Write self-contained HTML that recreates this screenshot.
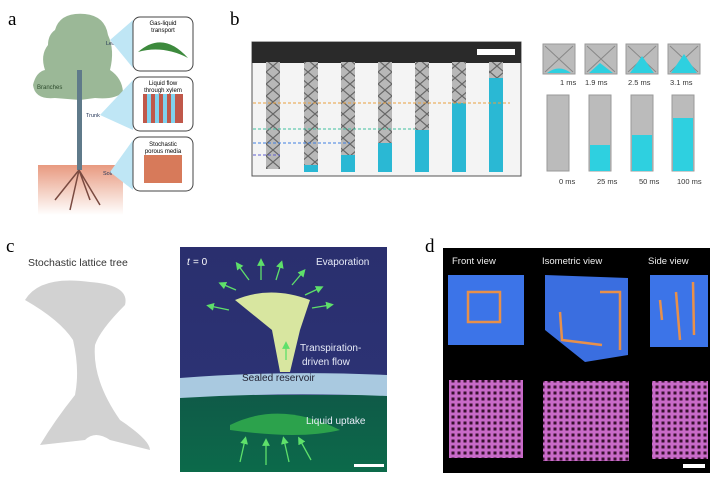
<!DOCTYPE html>
<html><head><style>
body{margin:0;background:#fff;width:720px;height:483px;overflow:hidden;font-family:"Liberation Sans",sans-serif}
</style></head><body>
<svg width="720" height="483" viewBox="0 0 720 483" xmlns="http://www.w3.org/2000/svg" font-family="Liberation Sans, sans-serif">
<defs>
<linearGradient id="cg" x1="0" y1="0" x2="0" y2="1"><stop offset="0" stop-color="#2a2f6e"/><stop offset="1" stop-color="#2d3478"/></linearGradient>
<linearGradient id="wat" x1="0" y1="0" x2="0" y2="1"><stop offset="0" stop-color="#0f5a48"/><stop offset="1" stop-color="#0c6a4a"/></linearGradient>
<linearGradient id="soil" x1="0" y1="0" x2="0" y2="1"><stop offset="0" stop-color="#e89a80"/><stop offset="1" stop-color="#fff"/></linearGradient>
<pattern id="grid" width="6" height="6" patternUnits="userSpaceOnUse"><rect width="6" height="6" fill="#c86ac8"/><rect x="1.5" y="1.5" width="3" height="3" fill="#3a1030"/></pattern>
<pattern id="lat" width="14" height="12" patternUnits="userSpaceOnUse"><rect width="14" height="12" fill="#b8b8b8"/><path d="M0 0 L14 12 M14 0 L0 12" stroke="#666" stroke-width="1.2"/></pattern>
<marker id="ar" markerWidth="6" markerHeight="6" refX="3" refY="3" orient="auto"><path d="M0 0 L6 3 L0 6Z" fill="#5ee06a"/></marker>
</defs>
<!-- panel a -->
<text x="8" y="25" font-family="Liberation Serif" font-size="19">a</text>
<rect x="38" y="165" width="85" height="50" fill="url(#soil)"/>
<path d="M55 30 Q60 12 85 14 Q105 16 108 35 Q115 50 110 70 Q122 78 123 92 Q115 100 95 98 L80 100 L55 98 Q35 100 33 85 Q36 72 45 70 Q40 55 48 45 Q48 35 55 30Z" fill="#9bb897"/>
<rect x="77" y="70" width="5" height="100" fill="#5f7a8a"/>
<path d="M79 170 L55 200 M79 170 L100 205 M79 170 L70 210 M79 170 L90 200" stroke="#7a4a40" stroke-width="1.5" fill="none"/>
<text x="37" y="89" font-size="6" fill="#2c4a2c">Branches</text>
<text x="106" y="45" font-size="5.5" fill="#235">Leaves</text>
<text x="86" y="117" font-size="5.5" fill="#235">Trunk</text>
<text x="103" y="175" font-size="5.5" fill="#235">Soil</text>
<polygon points="110,40 133,20 133,68" fill="#bfe6f5"/>
<polygon points="100,115 133,80 133,130" fill="#bfe6f5"/>
<polygon points="110,172 133,140 133,190" fill="#bfe6f5"/>
<rect x="133" y="17" width="60" height="54" rx="7" fill="#fff" stroke="#444"/>
<text x="163" y="25" font-size="6" text-anchor="middle">Gas-liquid</text><text x="163" y="32" font-size="6" text-anchor="middle">transport</text>
<path d="M138 52 Q163 30 188 58 Q163 45 138 52Z" fill="#3d8a3d"/>
<rect x="133" y="77" width="60" height="54" rx="7" fill="#fff" stroke="#444"/>
<text x="163" y="85" font-size="6" text-anchor="middle">Liquid flow</text><text x="163" y="92" font-size="6" text-anchor="middle">through xylem</text>
<rect x="143" y="94" width="40" height="29" fill="#c0584a"/>
<g fill="#7fd2ee"><rect x="147" y="94" width="4" height="29"/><rect x="155" y="94" width="4" height="29"/><rect x="163" y="94" width="4" height="29"/><rect x="171" y="94" width="4" height="29"/></g>
<rect x="133" y="137" width="60" height="54" rx="7" fill="#fff" stroke="#444"/>
<text x="163" y="146" font-size="6" text-anchor="middle">Stochastic</text><text x="163" y="153" font-size="6" text-anchor="middle">porous media</text>
<rect x="144" y="155" width="38" height="28" fill="#d77a5a"/>
<!-- panel b -->
<text x="230" y="25" font-family="Liberation Serif" font-size="19">b</text>
<rect x="252" y="42" width="269" height="134" fill="#f4f4f4" stroke="#555"/>
<rect x="252" y="42" width="269" height="21" fill="#2a2a2a"/>
<rect x="477" y="49" width="38" height="6" fill="#fff"/>
<g fill="url(#lat)">
<rect x="266" y="62" width="14" height="107"/><rect x="304" y="62" width="14" height="110"/><rect x="341" y="62" width="14" height="110"/><rect x="378" y="62" width="14" height="110"/><rect x="415" y="62" width="14" height="110"/><rect x="452" y="62" width="14" height="110"/><rect x="489" y="62" width="14" height="110"/>
</g>
<g fill="#2ab8d4">
<rect x="304" y="165" width="14" height="7"/><rect x="341" y="155" width="14" height="17"/><rect x="378" y="143" width="14" height="29"/><rect x="415" y="130" width="14" height="42"/><rect x="452" y="103" width="14" height="69"/><rect x="489" y="78" width="14" height="94"/>
</g>
<line x1="253" y1="103" x2="510" y2="103" stroke="#e8a040" stroke-dasharray="3,2"/>
<line x1="253" y1="129" x2="415" y2="129" stroke="#40c0a0" stroke-dasharray="3,2"/>
<line x1="253" y1="143" x2="350" y2="143" stroke="#4080e0" stroke-dasharray="3,2"/>
<line x1="253" y1="155" x2="280" y2="155" stroke="#6060d0" stroke-dasharray="3,2"/>
<g fill="#bbb" stroke="#999">
<rect x="543" y="44" width="32" height="30"/><rect x="585" y="44" width="32" height="30"/><rect x="626" y="44" width="32" height="30"/><rect x="668" y="44" width="32" height="30"/>
<rect x="547" y="95" width="22" height="76"/><rect x="589" y="95" width="22" height="76"/><rect x="631" y="95" width="22" height="76"/><rect x="672" y="95" width="22" height="76"/>
</g>
<g stroke="#888" stroke-width="1"><path d="M545 46 L573 72 M573 46 L545 72 M587 46 L615 72 M615 46 L587 72 M628 46 L656 72 M656 46 L628 72 M670 46 L698 72 M698 46 L670 72"/></g>
<g fill="#2ed0e0"><path d="M547 73 Q559 64 571 73Z"/><path d="M589 73 L600 63 L613 73Z"/><path d="M630 73 L642 56 L654 73Z"/><path d="M671 73 L684 54 L697 73Z"/>
<rect x="590" y="145" width="20" height="26"/><rect x="632" y="135" width="20" height="36"/><rect x="673" y="118" width="20" height="53"/></g>
<g font-size="7.5" fill="#333"><text x="560" y="85">1 ms</text><text x="585" y="85">1.9 ms</text><text x="628" y="85">2.5 ms</text><text x="670" y="85">3.1 ms</text>
<text x="559" y="184">0 ms</text><text x="597" y="184">25 ms</text><text x="639" y="184">50 ms</text><text x="677" y="184">100 ms</text></g>
<!-- panel c -->
<text x="6" y="252" font-family="Liberation Serif" font-size="19">c</text>
<text x="28" y="266" font-size="10.5" fill="#333">Stochastic lattice tree</text>
<path d="M25 300 Q40 275 90 282 Q130 285 125 305 Q100 330 95 345 Q92 380 120 420 Q150 440 150 450 L110 440 Q95 430 85 440 L40 445 Q55 420 75 395 Q80 370 73 340 Q60 320 25 300Z" fill="#d2d2d2"/>
<rect x="180" y="247" width="207" height="225" fill="url(#cg)"/>
<rect x="180" y="395" width="207" height="77" fill="url(#wat)"/>
<path d="M180 378 Q280 370 387 375 L387 396 Q280 392 180 398Z" fill="#a9c9e0"/>
<path d="M235 300 Q270 285 310 300 L300 330 L290 372 L280 372 L272 330Z" fill="#d8e6a0"/>
<path d="M230 425 Q280 400 340 430 Q300 440 230 430Z" fill="#2ca24c"/>
<g stroke="#5ee06a" stroke-width="1.3" marker-end="url(#ar)">
<line x1="249" y1="280" x2="238" y2="265"/><line x1="261" y1="280" x2="261" y2="262"/><line x1="276" y1="280" x2="281" y2="264"/><line x1="292" y1="285" x2="303" y2="272"/><line x1="305" y1="295" x2="320" y2="288"/><line x1="312" y1="308" x2="330" y2="305"/><line x1="236" y1="290" x2="222" y2="284"/><line x1="229" y1="310" x2="210" y2="306"/>
<line x1="240" y1="462" x2="245" y2="440"/><line x1="266" y1="465" x2="266" y2="442"/><line x1="289" y1="462" x2="284" y2="440"/><line x1="311" y1="460" x2="300" y2="440"/><line x1="286" y1="360" x2="286" y2="345"/>
</g>
<text x="187" y="265" font-size="10" fill="#fff" font-style="italic">t</text><text x="193" y="265" font-size="10" fill="#fff"> = 0</text>
<text x="316" y="265" font-size="10" fill="#e8ecf8">Evaporation</text>
<text x="300" y="351" font-size="10" fill="#e8ecf8">Transpiration-</text>
<text x="302" y="365" font-size="10" fill="#e8ecf8">driven flow</text>
<text x="242" y="381" font-size="10" fill="#223">Sealed reservoir</text>
<text x="306" y="424" font-size="10" fill="#e8ecf8">Liquid uptake</text>
<rect x="354" y="464" width="30" height="3" fill="#fff"/>
<!-- panel d -->
<text x="425" y="252" font-family="Liberation Serif" font-size="19">d</text>
<rect x="443" y="248" width="267" height="225" fill="#000"/>
<g font-size="9.5" fill="#eee"><text x="452" y="264">Front view</text><text x="542" y="264">Isometric view</text><text x="648" y="264">Side view</text></g>
<rect x="448" y="275" width="76" height="70" fill="#3c74e8"/>
<polygon points="545,275 628,278 628,355 585,362 545,330" fill="#3a6ee0"/>
<rect x="650" y="275" width="58" height="72" fill="#3c74e8"/>
<g stroke="#e8904a" stroke-width="2.5" fill="none"><rect x="468" y="292" width="32" height="30"/><path d="M560 312 L562 340 L602 345 M600 292 L620 292 L620 350"/><path d="M660 300 L662 320 M676 292 L680 340 M693 282 L694 335"/></g>
<rect x="449" y="380" width="74" height="78" fill="url(#grid)"/>
<rect x="543" y="381" width="86" height="80" fill="url(#grid)"/>
<rect x="652" y="381" width="56" height="78" fill="url(#grid)"/>
<rect x="683" y="464" width="22" height="4" fill="#fff"/>
</svg>
</body></html>
